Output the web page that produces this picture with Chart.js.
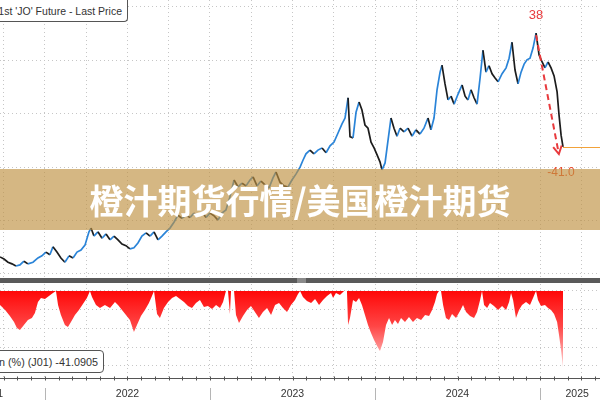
<!DOCTYPE html>
<html>
<head>
<meta charset="utf-8">
<script src="https://cdn.jsdelivr.net/npm/chart.js@4.4.1/dist/chart.umd.min.js"></script>
<style>
  html, body { margin: 0; padding: 0; background: #fff; }
  #wrap { position: relative; width: 600px; height: 400px; overflow: hidden; background: #fff; }
  #price { position: absolute; left: 0; top: 0; }
  #drawdown { position: absolute; left: 0; top: 284px; }
  .sep { position: absolute; left: 0; top: 278px; width: 600px; height: 5px; background: #5a5a5a; }
  .sep span { position: absolute; left: 297px; top: 0; width: 9px; height: 5px; background: #8a8a8a; }
  .box { position: absolute; background: #fff; border: 1px solid #555; border-radius: 4px;
         font: 10.5px "Liberation Sans", Arial, sans-serif; color: #333; line-height: 14px;
         padding: 4px 5px 3px 5px; white-space: nowrap; }
  #legendTop { right: 472px; top: 0; border-top: none; border-top-left-radius: 0; border-top-right-radius: 0; }
  #legendBottom { right: 496px; top: 350px; font-size: 10.8px; }
  .banner { position: absolute; left: 0; top: 169px; width: 600px; height: 61px;
            background: rgba(190, 145, 65, 0.65); color: #fff; text-align: center;
            font: bold 34px "Noto Sans CJK SC", sans-serif; line-height: 61px; }
</style>
</head>
<body>
<div id="wrap">
  <canvas id="price" width="600" height="278"></canvas>
  <div class="sep"><span></span></div>
  <canvas id="drawdown" width="600" height="116"></canvas>
  <div class="box" id="legendTop">Generic 1st 'JO' Future - Last Price</div>
  <div class="box" id="legendBottom">Drawdown (%) (J01) -41.0905</div>
  <div class="banner">橙汁期货行情/美国橙汁期货</div>
</div>
<script>
// months counted from Jan 2022
const priceMonths = [-3.27, -2.98, -2.69, -2.40, -2.11, -1.82, -1.53, -1.24, -0.87, -0.51,
  -0.22, 0.07, 0.36, 0.58, 0.87, 1.16, 1.45, 1.75, 2.04, 2.33,
  2.62, 2.91, 3.2, 3.35, 3.56, 3.85, 4.15, 4.44, 4.73, 5.02,
  5.31, 5.6, 5.89, 6.18, 6.47, 6.76, 7.05, 7.35, 7.64, 7.93,
  8.22, 8.51, 8.8, 9.09, 9.38, 9.67, 9.96, 10.25, 10.55, 10.84,
  11.13, 11.42, 11.71, 12.0, 12.29, 12.58, 12.87, 13.16, 13.45, 13.75,
  14.04, 14.33, 14.62, 14.91, 15.13, 15.42, 15.71, 16.0, 16.29, 16.58,
  16.8, 17.09, 17.38, 17.67, 17.96, 18.25, 18.55, 18.76, 18.98, 19.27,
  19.56, 19.85, 20.15, 20.44, 20.73, 21.02, 21.31, 21.6, 21.82, 22.04,
  22.18, 22.4, 22.62, 22.84, 23.05, 23.27, 23.49, 23.71, 23.93, 24.15,
  24.36, 24.51, 24.73, 24.95, 25.16, 25.38, 25.6, 25.82, 26.11, 26.4,
  26.69, 26.98, 27.27, 27.56, 27.85, 28.07, 28.29, 28.51, 28.73, 28.87,
  29.09, 29.31, 29.53, 29.75, 30.04, 30.33, 30.55, 30.76, 30.98, 31.2,
  31.42, 31.64, 31.85, 32.07, 32.29, 32.51, 32.73, 32.95, 33.24, 33.53,
  33.75, 33.96, 34.18, 34.4, 34.62, 34.84, 35.05, 35.27, 35.49, 35.71,
  35.93, 36.15, 36.36, 36.58, 36.8, 37.02, 37.24, 37.38, 37.53, 37.67];

const priceValues = [1.32, 1.28, 1.22, 1.19, 1.15, 1.17, 1.24, 1.19, 1.22, 1.30,
  1.34, 1.41, 1.36, 1.51, 1.41, 1.30, 1.22, 1.34, 1.30, 1.41,
  1.45, 1.54, 1.79, 1.86, 1.71, 1.79, 1.67, 1.75, 1.64, 1.71,
  1.64, 1.56, 1.53, 1.47, 1.49, 1.58, 1.71, 1.77, 1.71, 1.79,
  1.64, 1.71, 1.79, 1.86, 1.97, 2.10, 2.04, 2.10, 2.06, 2.14,
  2.09, 2.16, 2.06, 2.14, 2.09, 2.01, 2.14, 2.20, 2.44, 2.76,
  2.63, 2.70, 2.65, 2.76, 2.82, 2.65, 2.74, 2.67, 2.61, 2.80,
  2.91, 2.72, 2.65, 2.63, 2.76, 2.87, 3.00, 3.13, 3.25, 3.32,
  3.25, 3.32, 3.36, 3.27, 3.40, 3.47, 3.64, 3.81, 3.92, 4.30,
  3.57, 3.55, 4.03, 4.22, 4.07, 3.79, 3.73, 3.47, 3.36, 3.23,
  3.10, 2.95, 3.08, 3.51, 3.92, 3.73, 3.58, 3.73, 3.66, 3.73,
  3.58, 3.70, 3.62, 3.73, 3.92, 3.70, 3.92, 4.45, 4.78, 4.91,
  4.56, 4.26, 4.33, 4.18, 4.37, 4.54, 4.33, 4.26, 4.45, 4.30,
  4.18, 4.67, 5.19, 4.78, 4.90, 4.75, 4.67, 4.60, 4.75, 4.86,
  5.04, 5.34, 4.82, 4.56, 4.78, 4.93, 5.01, 5.04, 5.23, 5.51,
  5.10, 4.97, 4.86, 4.97, 4.86, 4.71, 4.41, 3.98, 3.60, 3.38];

const drawdownMonths = [-3.27, -2.91, -2.55, -2.25, -2.04, -1.82, -1.53, -1.24, -0.95, -0.73,
  -0.51, -0.29, 0, 0.29, 0.58, 0.80, 0.95, 1.16, 1.45, 1.67,
  1.89, 2.18, 2.47, 2.76, 3.05, 3.27, 3.42, 3.71, 4.00, 4.36,
  4.73, 5.09, 5.31, 5.60, 5.89, 6.18, 6.47, 6.69, 6.98, 7.27,
  7.56, 7.78, 7.93, 8.15, 8.36, 8.65, 8.95, 9.24, 9.53, 9.82,
  10.11, 10.40, 10.69, 10.98, 11.27, 11.56, 11.85, 12.15, 12.44, 12.73,
  12.95, 13.16, 13.31, 13.45, 13.53, 13.75, 13.89, 14.11, 14.40, 14.69,
  14.98, 15.27, 15.56, 15.85, 16.15, 16.44, 16.73, 17.02, 17.31, 17.60,
  17.89, 18.18, 18.40, 18.55, 18.76, 19.05, 19.35, 19.64, 19.93, 20.22,
  20.51, 20.80, 20.95, 21.16, 21.45, 21.75, 21.96, 22.04, 22.18, 22.40,
  22.62, 22.84, 23.05, 23.27, 23.49, 23.71, 23.93, 24.15, 24.36, 24.58,
  24.80, 25.02, 25.24, 25.45, 25.67, 25.89, 26.18, 26.47, 26.76, 27.05,
  27.35, 27.64, 27.93, 28.15, 28.36, 28.51, 28.65, 28.80, 28.95, 29.16,
  29.38, 29.60, 29.89, 30.18, 30.40, 30.62, 30.91, 31.20, 31.42, 31.64,
  31.78, 31.93, 32.15, 32.36, 32.65, 32.95, 33.24, 33.53, 33.75, 33.89,
  34.04, 34.25, 34.47, 34.69, 34.98, 35.27, 35.49, 35.64, 35.71, 35.85,
  36.07, 36.36, 36.58, 36.80, 37.02, 37.24, 37.38, 37.53, 37.67];

const drawdownValues = [-7.5, -10, -13.4, -16.6, -19.8, -20.9, -18.2, -15.5, -14.4, -11.8,
  -5.9, -3.7, -4.3, -2.7, -1.1, 0, -7.5, -12.8, -18.2, -19.3,
  -16.6, -12.8, -10.2, -7, -3.7, 0, -3.2, -7.5, -9.1, -7.5,
  -9.1, -5.9, -7.5, -10.2, -12.8, -15.5, -21.9, -18.2, -13.4, -10.2,
  -6.4, -2.7, 0, -12.3, -14.4, -9.1, -5.9, -3.7, -2.7, -4.3,
  -5.9, -8, -9.1, -6.4, -4.8, -8.6, -8, -9.6, -7.5, -9.1,
  -5.9, 0, 0, -12.3, 0, 0, -12.8, -17.1, -13.4, -10.2,
  -8, -11.2, -14.4, -11.2, -9.1, -12.8, -7.5, -6.4, -9.1, -11.2,
  -7.5, -4.8, -1.6, 0, -3.2, -5.3, -6.4, -4.3, -7.5, -4.8,
  -2.7, -1.1, -3.7, -1.1, -2.1, 0, 0, -18.2, -14.4, -4.8,
  -5.9, -3.7, -7.5, -12.8, -18.2, -22.5, -26.2, -29.4, -32.1, -27.3,
  -18.2, -14.4, -18.2, -15.5, -17.6, -14.4, -16.6, -13.9, -16.6, -14.4,
  -15.5, -12.8, -13.4, -10.2, -5.9, -1.6, 0, 0, -7.5, -14.4,
  -15.5, -12.3, -14.4, -10.7, -7.5, -11.2, -13.4, -14.4, -11.2, -4.8,
  0, -7.5, -9.1, -6.4, -8, -10.2, -8, -10.2, -5.9, -1.1,
  -4.8, -14.4, -10.2, -7.5, -5.9, -7.5, -3.7, -1.1, 0, -4.8,
  -8, -7.5, -9.1, -10.2, -12.3, -16.6, -23.5, -31.6, -41.1];

const yearLabels = ['2021', '2022', '2023', '2024', '2025'];
const yearLabelMonths = [-3.9, 6, 18, 30, 38.7];
const yearStartMonths = [0, 12, 24, 36];
const quarterMonths = [-3, 0, 3, 6, 9, 12, 15, 18, 21, 24, 27, 30, 33, 36, 39];
const priceGrid = [1, 2, 3, 4, 5, 6];
const drawdownGrid = [-40, -30, -20, -10, 0];
const peakLabel = '38';
const drawdownLabel = '-41.0';
const lastDrawdown = -41.09;

const X_MIN = -3.27, X_MAX = 40.36;
const GRID = '#c6c6c6';
const BLUE = '#2a84d8';
const DARK = '#1c1c1c';

// It is for the arrow and labels on the price panel
const priceNotes = {
  id: 'priceNotes',
  afterDatasetsDraw(chart) {
    const ctx = chart.ctx, xs = chart.scales.x, ys = chart.scales.y;
    const last = priceValues.length - 1;
    let top = 0;
    priceValues.forEach((v, i) => { if (v > priceValues[top]) top = i; });

    const px = xs.getPixelForValue(priceMonths[top]);
    const py = ys.getPixelForValue(priceValues[top]);
    const lx = xs.getPixelForValue(priceMonths[last]);
    const ly = ys.getPixelForValue(priceValues[last]);
    const tx = xs.getPixelForValue(priceMonths[last] - 0.3);
    const ty = ys.getPixelForValue(priceValues[top] * (1 + lastDrawdown / 100));

    ctx.save();
    // last price line
    ctx.strokeStyle = '#f2a23a';
    ctx.lineWidth = 1;
    ctx.beginPath();
    ctx.moveTo(lx, Math.round(ly) + 0.5);
    ctx.lineTo(chart.chartArea.right, Math.round(ly) + 0.5);
    ctx.stroke();

    // dashed arrow
    ctx.strokeStyle = '#e83a3d';
    ctx.lineWidth = 2;
    ctx.setLineDash([6, 4]);
    ctx.beginPath();
    ctx.moveTo(px, py + 2);
    ctx.lineTo(tx, ty);
    ctx.stroke();
    ctx.setLineDash([]);
    const ang = Math.atan2(ty - py, tx - px);
    ctx.beginPath();
    ctx.moveTo(tx - 9 * Math.cos(ang - 0.5), ty - 9 * Math.sin(ang - 0.5));
    ctx.lineTo(tx, ty);
    ctx.lineTo(tx - 9 * Math.cos(ang + 0.5), ty - 9 * Math.sin(ang + 0.5));
    ctx.stroke();

    ctx.fillStyle = '#e83a3d';
    ctx.font = '13px "Liberation Sans", Arial, sans-serif';
    ctx.textAlign = 'center';
    ctx.textBaseline = 'middle';
    ctx.fillText(peakLabel, px, py - 18);

    ctx.fillStyle = '#ea4a2a';
    ctx.font = '12px "Liberation Sans", Arial, sans-serif';
    ctx.fillText(drawdownLabel, tx + 2, ty + 19);
    ctx.restore();
  }
};

// It is for the date axis under the drawdown panel
const dateAxis = {
  id: 'dateAxis',
  afterDraw(chart) {
    const ctx = chart.ctx, xs = chart.scales.x;
    const bottom = chart.chartArea.bottom;
    ctx.save();
    ctx.strokeStyle = '#555';
    ctx.lineWidth = 1;
    ctx.beginPath();
    ctx.moveTo(0, bottom + 0.5);
    ctx.lineTo(chart.width, bottom + 0.5);
    for (let m = -3; m <= 40; m++) {
      const x = Math.round(xs.getPixelForValue(m)) + 0.5;
      ctx.moveTo(x, bottom - 1.5);
      ctx.lineTo(x, bottom + 2.5);
    }
    ctx.stroke();

    ctx.strokeStyle = '#b5b5b5';
    ctx.beginPath();
    yearStartMonths.forEach(m => {
      const x = Math.round(xs.getPixelForValue(m)) + 0.5;
      ctx.moveTo(x, bottom + 10);
      ctx.lineTo(x, chart.height);
    });
    ctx.stroke();

    ctx.fillStyle = '#333';
    ctx.font = '10.5px "Liberation Sans", Arial, sans-serif';
    ctx.textAlign = 'center';
    ctx.textBaseline = 'middle';
    yearLabels.forEach((t, i) => {
      ctx.fillText(t, xs.getPixelForValue(yearLabelMonths[i]), bottom + 16);
    });
    ctx.restore();
  }
};

function gridAxis(ticks, extra) {
  return Object.assign({
    type: 'linear',
    afterBuildTicks: s => { s.ticks = ticks.map(v => ({ value: v })); },
    ticks: { display: false },
    grid: { color: GRID, lineWidth: 1, drawTicks: false, tickLength: 0 },
    border: { display: false, dash: [1, 3] }
  }, extra);
}

window.onload = function () {
  new Chart(document.getElementById('price'), {
    type: 'line',
    data: {
      datasets: [{
        data: priceMonths.map((m, i) => ({ x: m, y: priceValues[i] })),
        borderWidth: 1.7,
        borderColor: BLUE,
        pointRadius: 0,
        tension: 0,
        segment: {
          borderColor: c => c.p1.parsed.y >= c.p0.parsed.y ? BLUE : DARK
        }
      }]
    },
    options: {
      responsive: false,
      animation: false,
      events: [],
      layout: { padding: 0 },
      plugins: { legend: { display: false }, tooltip: { enabled: false } },
      scales: {
        x: gridAxis(quarterMonths, { min: X_MIN, max: X_MAX, afterFit: s => { s.height = 0; } }),
        y: gridAxis(priceGrid, { min: 0.925, max: 6.131, afterFit: s => { s.width = 0; } })
      }
    },
    plugins: [priceNotes]
  });

  const ddCanvas = document.getElementById('drawdown');
  new Chart(ddCanvas, {
    type: 'line',
    data: {
      datasets: [{
        data: drawdownMonths.map((m, i) => ({ x: m, y: drawdownValues[i] })),
        borderWidth: 0,
        pointRadius: 0,
        tension: 0,
        fill: { value: 0 },
        backgroundColor: c => {
          const area = c.chart.chartArea;
          if (!area) return '#ff2020';
          const ys = c.chart.scales.y;
          const g = c.chart.ctx.createLinearGradient(0, ys.getPixelForValue(0), 0, ys.getPixelForValue(-42));
          g.addColorStop(0, 'rgb(255, 8, 8)');
          g.addColorStop(0.45, 'rgb(255, 70, 70)');
          g.addColorStop(0.8, 'rgb(255, 165, 165)');
          g.addColorStop(1, 'rgb(255, 225, 225)');
          return g;
        }
      }]
    },
    options: {
      responsive: false,
      animation: false,
      events: [],
      layout: { padding: 0 },
      plugins: { legend: { display: false }, tooltip: { enabled: false } },
      scales: {
        x: gridAxis(quarterMonths, { min: X_MIN, max: X_MAX, afterFit: s => { s.height = 22; } }),
        y: gridAxis(drawdownGrid, { min: -46.5, max: 3.74, afterFit: s => { s.width = 0; } })
      }
    },
    plugins: [dateAxis]
  });
};
</script>
</body>
</html>
